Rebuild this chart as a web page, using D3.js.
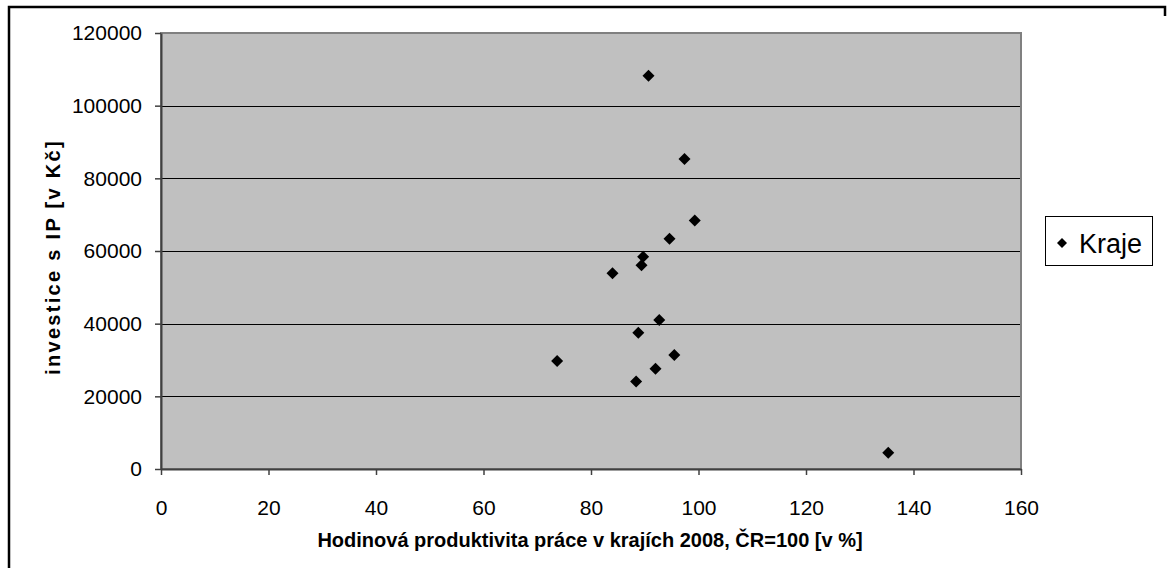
<!DOCTYPE html>
<html>
<head>
<meta charset="utf-8">
<script src="https://cdn.jsdelivr.net/npm/d3@7"></script>
<style>
  html, body { margin: 0; padding: 0; background: #fff; }
  svg { display: block; font-family: "Liberation Sans", Arial, sans-serif; }
</style>
</head>
<body>
<svg id="chart" width="1173" height="568"></svg>
<script>
// Hourly labour productivity by region (CZ = 100) vs. investment per capita
const productivity = [90.7, 97.4, 99.3, 94.6, 89.7, 89.4, 84.0, 92.7, 88.8, 73.7, 95.5, 92.0, 88.4, 135.3];
const investment   = [108200, 85300, 68400, 63400, 58400, 56100, 53900, 41000, 37500, 29700, 31400, 27600, 24100, 4500];
const xTicks = [0, 20, 40, 60, 80, 100, 120, 140, 160];
const yTicks = [0, 20000, 40000, 60000, 80000, 100000, 120000];
const seriesName = "Kraje";
const xTitle = "Hodinová produktivita práce v krajích 2008, ČR=100 [v %]";
const yTitle = "investice s IP [v Kč]";

const svg = d3.select("#chart");
const plot = { left: 161, top: 33, right: 1021, bottom: 469 };

const x = d3.scaleLinear().domain([0, 160]).range([plot.left, plot.right]);
const y = d3.scaleLinear().domain([0, 120000]).range([plot.bottom, plot.top]);

// outer chart frame (only partly inside the canvas)
svg.append("path")
  .attr("d", "M9,568 V7 H1165 V16")
  .attr("fill", "none").attr("stroke", "#000").attr("stroke-width", 2.5);

// plot background
svg.append("rect")
  .attr("x", plot.left).attr("y", plot.top)
  .attr("width", plot.right - plot.left).attr("height", plot.bottom - plot.top)
  .attr("fill", "#c0c0c0");

// horizontal gridlines
svg.append("g").selectAll("line")
  .data(yTicks.filter(d => d > 0 && d < 120000))
  .join("line")
  .attr("x1", plot.left).attr("x2", plot.right)
  .attr("y1", d => Math.round(y(d)) + 0.5).attr("y2", d => Math.round(y(d)) + 0.5)
  .attr("stroke", "#000").attr("stroke-width", 1);

// plot border
svg.append("rect")
  .attr("x", plot.left).attr("y", plot.top)
  .attr("width", plot.right - plot.left).attr("height", plot.bottom - plot.top)
  .attr("fill", "none").attr("stroke", "#808080").attr("stroke-width", 2);

// axes
const xAxis = d3.axisBottom(x).tickValues(xTicks).tickFormat(d3.format("d"))
  .tickSizeInner(6).tickSizeOuter(0).tickPadding(25);
const yAxis = d3.axisLeft(y).tickValues(yTicks).tickFormat(d3.format("d"))
  .tickSizeInner(6).tickSizeOuter(0).tickPadding(13);

const gx = svg.append("g").attr("transform", `translate(0,${plot.bottom})`).call(xAxis);
const gy = svg.append("g").attr("transform", `translate(${plot.left},0)`).call(yAxis);

[gx, gy].forEach(g => {
  g.select(".domain").attr("stroke", "#404040").attr("stroke-width", 2);
  g.selectAll(".tick line").attr("stroke", "#404040").attr("stroke-width", 1.5);
  g.selectAll(".tick text")
    .attr("fill", "#000")
    .style("font-family", "'Liberation Sans', Arial, sans-serif")
    .style("font-size", "21px");
});

// data markers: rotated squares (diamonds)
const diamond = d3.symbol().type(d3.symbolSquare).size(72);
svg.append("g").selectAll("path")
  .data(productivity.map((p, i) => [p, investment[i]]))
  .join("path")
  .attr("d", diamond)
  .attr("transform", d => `translate(${x(d[0])},${y(d[1])}) rotate(45)`)
  .attr("fill", "#000");

// axis titles
svg.append("text")
  .attr("x", 590).attr("y", 547)
  .attr("text-anchor", "middle")
  .style("font-weight", "bold").style("font-size", "20px")
  .text(xTitle);

svg.append("text")
  .attr("transform", "translate(60,257) rotate(-90)")
  .attr("text-anchor", "middle")
  .style("font-weight", "bold").style("font-size", "20px")
  .style("letter-spacing", "2.3px")
  .text(yTitle);

// legend
const lg = svg.append("g");
lg.append("rect")
  .attr("x", 1045.5).attr("y", 216.5).attr("width", 107).attr("height", 49)
  .attr("fill", "#fff").attr("stroke", "#000").attr("stroke-width", 1);
lg.append("path")
  .attr("d", d3.symbol().type(d3.symbolSquare).size(50))
  .attr("transform", "translate(1062,243) rotate(45)")
  .attr("fill", "#000");
lg.append("text")
  .attr("x", 1079).attr("y", 253)
  .style("font-size", "27px")
  .text(seriesName);
</script>
</body>
</html>
